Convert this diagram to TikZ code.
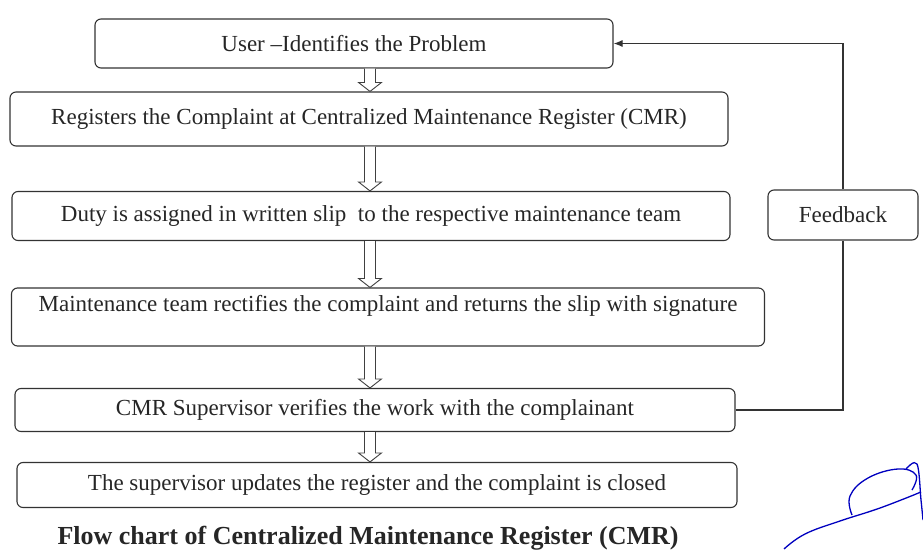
\documentclass[tikz,border=0pt]{standalone}
\usepackage{fontspec}
\setmainfont{Liberation Serif}
\usetikzlibrary{calc,arrows.meta}
\begin{document}
\begin{tikzpicture}[x=1pt,y=-1pt,
  box/.style={draw=black!80, line width=1.1pt, rounded corners=6pt,
    inner sep=0pt, text=black!85, font=\fontsize{23}{27}\selectfont},
  hollow/.style={draw=black!75, line width=0.9pt, fill=white,
    to path={let \p1=(\tikztostart), \p2=(\tikztotarget) in
      (\x1-5.5pt,\y1) -- (\x1-5.5pt,\y2+9pt) -- (\x1-11.5pt,\y2+9pt)
      -- (\x1,\y2) -- (\x1+11.5pt,\y2+9pt) -- (\x1+5.5pt,\y2+9pt)
      -- (\x1+5.5pt,\y1)}},
  loop/.style={draw=black!80, line width=1.1pt}]
\useasboundingbox (0,0) rectangle (923,549);

%BOXES
  \node (b1) at (354,43.5) [box, minimum width=518pt, minimum height=49pt] {User --Identifies the Problem};
  \node (b2) at (369,119) [box, minimum width=718pt, minimum height=54pt] {Registers the Complaint at Centralized Maintenance Register (CMR)};
  \node (b3) at (371,216) [box, minimum width=718pt, minimum height=49pt] {Duty is assigned in written slip\ \ to the respective maintenance team};
  \node (b4) at (388,317) [box, minimum width=753pt, minimum height=58pt, text depth=28pt] {Maintenance team rectifies the complaint and returns the slip with signature};
  \node (b5) at (375,410) [box, minimum width=720pt, minimum height=43pt] {CMR Supervisor verifies the work with the complainant};
  \node (b6) at (377,485) [box, minimum width=720pt, minimum height=45pt] {The supervisor updates the register and the complaint is closed};
  \node (fb) at (843,215) [box, minimum width=150pt, minimum height=50pt] {Feedback};

  \node (cap) at (368,538) [font=\fontsize{26}{30}\selectfont\bfseries, text=black!85]
    {Flow chart of Centralized Maintenance Register (CMR)};

%ARROWS
  \coordinate (ax) at (370,0);
  \draw[hollow] (b1.south -| ax) to (b2.north -| ax);
  \draw[hollow] (b2.south -| ax) to (b3.north -| ax);
  \draw[hollow] (b3.south -| ax) to (b4.north -| ax);
  \draw[hollow] (b4.south -| ax) to (b5.north -| ax);
  \draw[hollow] (b5.south -| ax) to (b6.north -| ax);

%FEEDBACK LOOP
  \draw[loop] (b5.east) -| (fb.south);
  \draw[loop, -{Latex[length=9pt,width=7pt]}] (fb.north) |- (b1.east);

%SIGNATURE
  \draw[blue!75!black, line width=1.3pt] plot[smooth, tension=0.7] coordinates
    {(784,549) (805,534) (840,521) (880,508) (921,492)};
  \draw[blue!75!black, line width=1.3pt] plot[smooth, tension=0.7] coordinates
    {(852,515) (850,496) (868,478) (898,469) (916,475) (912,490)};
  \draw[blue!75!black, line width=1.3pt] plot[smooth, tension=0.6] coordinates
    {(906,469) (917,464) (921,500) (923,520)};
\end{tikzpicture}
\end{document}
